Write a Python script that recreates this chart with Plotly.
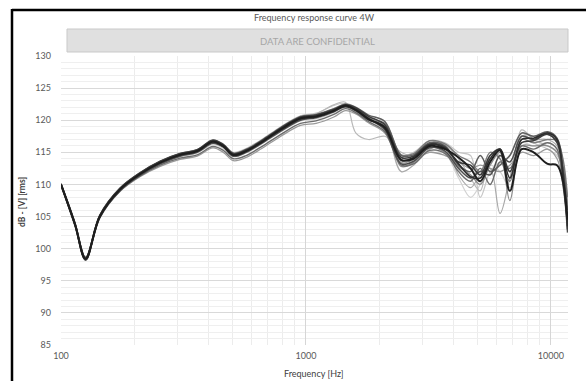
import math
import plotly.graph_objects as go

# Measurement frequencies (Hz)
freq = [100, 114, 126, 144, 174, 210, 254, 306, 360, 417, 460, 505, 570,
        660, 790, 950, 1100, 1300,
        1450, 1600, 1800, 2100,
        2450, 2750, 3200, 3700,
        4200, 4700, 5150, 5650, 6200, 6800, 7600, 8500, 9700, 10600, 11200, 11700]

# Response of each measured sample, dB - [V] [rms]
s01 = [110.0, 103.8, 98.4, 105.0, 109.2, 111.6, 113.4, 114.6, 115.2, 116.7, 116.0, 114.6, 115.2,
       116.6, 118.6, 120.3, 120.6, 121.5, 122.3, 121.6, 120.2, 118.8, 113.8, 114.0, 116.0, 115.5,
       114.2, 112.5, 110.5, 113.5, 115.3, 109.0, 115.5, 115.0, 113.2, 113.0, 110.5, 104.5]
s02 = [110.1, 104.0, 98.6, 105.2, 109.4, 111.8, 113.6, 114.8, 115.4, 116.9, 116.2, 114.8, 115.4,
       116.8, 118.8, 120.5, 120.8, 121.7, 122.4, 121.9, 120.6, 119.3, 114.2, 114.4, 116.3, 115.8,
       113.5, 113.0, 111.5, 114.5, 115.5, 112.0, 116.5, 116.8, 117.8, 116.5, 112.0, 103.0]
s03 = [109.9, 103.6, 98.2, 104.8, 109.0, 111.4, 113.2, 114.4, 115.0, 116.4, 115.8, 114.4, 115.0,
       116.4, 118.3, 120.0, 120.4, 121.3, 122.3, 121.8, 120.3, 118.5, 113.2, 113.6, 115.7, 115.2,
       112.5, 111.0, 112.0, 111.5, 114.5, 113.5, 117.5, 117.0, 118.0, 117.0, 111.0, 102.5]
s04 = [110.0, 103.9, 98.5, 105.1, 109.3, 111.7, 113.5, 114.7, 115.3, 116.6, 116.0, 114.7, 115.3,
       116.7, 118.7, 120.4, 120.7, 121.6, 122.5, 122.0, 120.8, 119.8, 114.5, 114.6, 116.5, 116.0,
       113.0, 112.0, 114.5, 112.0, 113.0, 114.5, 118.0, 117.5, 118.2, 117.2, 113.0, 106.0]
s05 = [109.9, 103.7, 98.3, 104.9, 109.0, 111.3, 113.0, 114.1, 114.6, 115.9, 115.3, 114.0, 114.5,
       115.9, 117.8, 119.5, 119.9, 120.9, 121.8, 121.2, 119.8, 118.2, 113.0, 113.2, 115.3, 114.8,
       112.0, 110.5, 112.5, 110.0, 113.5, 112.5, 116.0, 115.5, 116.5, 115.5, 110.0, 104.0]
s06 = [110.1, 104.0, 98.6, 105.2, 109.4, 111.8, 113.6, 114.8, 115.4, 116.8, 116.2, 114.9, 115.5,
       116.9, 118.9, 120.6, 120.9, 121.8, 122.4, 121.4, 120.0, 119.5, 114.6, 114.8, 116.8, 116.3,
       114.5, 113.5, 112.0, 115.0, 114.0, 110.5, 117.0, 116.5, 117.0, 116.8, 114.0, 108.0]
s07 = [110.0, 103.8, 98.4, 105.0, 109.2, 111.6, 113.4, 114.5, 115.1, 116.5, 115.9, 114.5, 115.1,
       116.5, 118.4, 120.1, 120.5, 121.4, 122.2, 121.7, 120.4, 118.9, 112.8, 113.4, 115.8, 115.0,
       112.8, 111.5, 110.0, 113.0, 115.0, 107.5, 116.0, 116.0, 116.0, 115.0, 111.0, 105.0]
s08 = [109.9, 103.7, 98.3, 104.9, 108.9, 111.2, 112.8, 113.9, 114.4, 115.7, 115.0, 113.7, 114.2,
       115.6, 117.5, 119.2, 119.5, 120.5, 121.5, 121.0, 119.6, 118.0, 113.4, 113.8, 115.0, 114.5,
       113.5, 112.5, 113.0, 112.5, 112.0, 113.0, 115.0, 114.5, 115.5, 114.0, 110.0, 104.0]
s09 = [110.0, 103.9, 98.5, 105.1, 109.3, 111.7, 113.5, 114.7, 115.3, 116.7, 116.1, 114.8, 115.4,
       116.8, 118.7, 120.4, 120.8, 121.8, 122.6, 122.0, 120.6, 119.0, 112.0, 113.0, 115.5, 115.8,
       111.5, 109.5, 111.5, 112.5, 105.5, 111.0, 117.5, 117.0, 117.0, 116.0, 112.0, 107.0]
s10 = [110.0, 103.8, 98.4, 105.0, 109.2, 111.6, 113.4, 114.6, 115.2, 116.7, 116.0, 114.7, 115.3,
       116.8, 118.8, 120.6, 121.0, 122.4, 122.8, 118.0, 117.0, 117.5, 115.0, 114.5, 116.5, 116.2,
       114.0, 111.0, 109.0, 114.5, 114.5, 112.0, 118.5, 117.0, 116.0, 115.0, 112.5, 107.0]
s11 = [110.1, 104.0, 98.6, 105.2, 109.4, 111.8, 113.6, 114.8, 115.4, 116.9, 116.3, 115.0, 115.6,
       117.0, 119.0, 120.7, 121.1, 122.3, 122.6, 121.0, 120.5, 119.0, 114.5, 115.0, 116.8, 116.5,
       115.0, 114.5, 108.0, 112.0, 113.5, 114.5, 118.0, 116.5, 115.5, 114.5, 112.5, 108.0]
s12 = [110.0, 103.8, 98.4, 105.0, 109.1, 111.5, 113.2, 114.3, 114.9, 116.2, 115.6, 114.3, 114.9,
       116.3, 118.2, 119.9, 120.2, 121.2, 122.0, 121.4, 120.0, 118.5, 113.5, 113.2, 115.2, 114.8,
       111.0, 108.0, 110.0, 113.0, 112.0, 109.5, 116.5, 116.0, 116.5, 115.5, 112.0, 106.0]
s13 = [110.0, 103.8, 98.4, 105.0, 109.2, 111.6, 113.4, 114.6, 115.2, 116.6, 115.9, 114.6, 115.2,
       116.6, 118.5, 120.2, 120.5, 121.4, 122.1, 121.5, 120.1, 119.0, 113.8, 114.2, 116.2, 115.6,
       113.2, 111.2, 111.0, 114.0, 115.5, 111.0, 117.0, 117.2, 118.0, 117.0, 111.5, 103.5]

# (series, line colour, line width) drawn lightest first so dark ones sit on top
samples = [
    (s12, "#d2d2d2", 1.2),
    (s11, "#c6c6c6", 1.2),
    (s10, "#b8b8b8", 1.2),
    (s09, "#a9a9a9", 1.2),
    (s08, "#9a9a9a", 1.3),
    (s07, "#8a8a8a", 1.3),
    (s06, "#7b7b7b", 1.4),
    (s05, "#6d6d6d", 1.4),
    (s04, "#5e5e5e", 1.5),
    (s03, "#4d4d4d", 1.5),
    (s02, "#3c3c3c", 1.6),
    (s13, "#2e2e2e", 1.6),
    (s01, "#1e1e1e", 2.0),
]

y_ticks = [85, 90, 95, 100, 105, 110, 115, 120, 125, 130]
x_ticks = [100, 1000, 10000]
x_ticktext = ["100", "1000", "10000"]
x_minor = [200, 300, 400, 500, 600, 700, 800, 900,
           2000, 3000, 4000, 5000, 6000, 7000, 8000, 9000]

FONT = "Lato"
W, H = 586, 381
L, R, T, B = 61, 568, 56, 345          # plot area in pixels


def px(xp):
    return (xp - L) / (R - L)


def py(yp):
    return (B - yp) / (B - T)


fig = go.Figure()
for ys, col, w in samples:
    fig.add_trace(go.Scatter(
        x=freq, y=ys, mode="lines",
        line=dict(color=col, width=w, shape="spline", smoothing=1.0),
        hoverinfo="skip", showlegend=False))

fig.update_layout(
    width=W, height=H,
    margin=dict(l=L, r=W - R, t=T, b=H - B, pad=0),
    paper_bgcolor="white", plot_bgcolor="white",
    font=dict(family=FONT, size=9, color="#595959"),
    showlegend=False,
    xaxis=dict(
        type="log", range=[2, math.log10(11750)],
        tickmode="array", tickvals=x_ticks, ticktext=x_ticktext,
        showgrid=True, gridcolor="#d6d6d6", gridwidth=1,
        minor=dict(tickmode="array", tickvals=x_minor, showgrid=True,
                   gridcolor="#ececec", gridwidth=1, ticks=""),
        zeroline=False, showline=False, ticks="",
        ticklabelstandoff=4,
        tickfont=dict(family=FONT, size=9, color="#595959"),
    ),
    yaxis=dict(
        range=[85, 130], tickmode="array", tickvals=y_ticks,
        showgrid=True, gridcolor="#d9d9d9", gridwidth=1,
        minor=dict(dtick=1, showgrid=True, gridcolor="#efefef",
                   gridwidth=1, ticks=""),
        zeroline=False, showline=False, ticks="",
        ticklabelstandoff=9,
        tickfont=dict(family=FONT, size=9, color="#595959"),
    ),
)

# Banner box above the plot area
fig.add_shape(type="rect", xref="paper", yref="paper",
              x0=px(67), x1=px(568), y0=py(52), y1=py(29),
              fillcolor="#e0e0e0", line=dict(color="#c9c9c9", width=1))

# Frame lines (left and top)
fig.add_shape(type="line", xref="paper", yref="paper",
              x0=px(12), x1=px(590), y0=py(10), y1=py(10),
              line=dict(color="black", width=2.5))
fig.add_shape(type="line", xref="paper", yref="paper",
              x0=px(12), x1=px(12), y0=py(9), y1=py(390),
              line=dict(color="black", width=2.5))

annotations = [
    dict(text="Frequency response curve 4W", x=px(314), y=py(18),
         font=dict(family=FONT, size=9, color="#595959")),
    dict(text="DATA ARE CONFIDENTIAL", x=px(317), y=py(41),
         font=dict(family=FONT, size=9.5, color="#a6a6a6")),
    dict(text="Frequency [Hz]", x=px(314), y=py(373),
         font=dict(family=FONT, size=9, color="#404040")),
    dict(text="<b>dB - [V] [rms]</b>", x=px(22), y=py(202), textangle=-90,
         font=dict(family=FONT, size=8.5, color="#404040")),
]
for a in annotations:
    fig.add_annotation(xref="paper", yref="paper", showarrow=False,
                       xanchor="center", yanchor="middle", **a)

fig.write_html("out.html")
